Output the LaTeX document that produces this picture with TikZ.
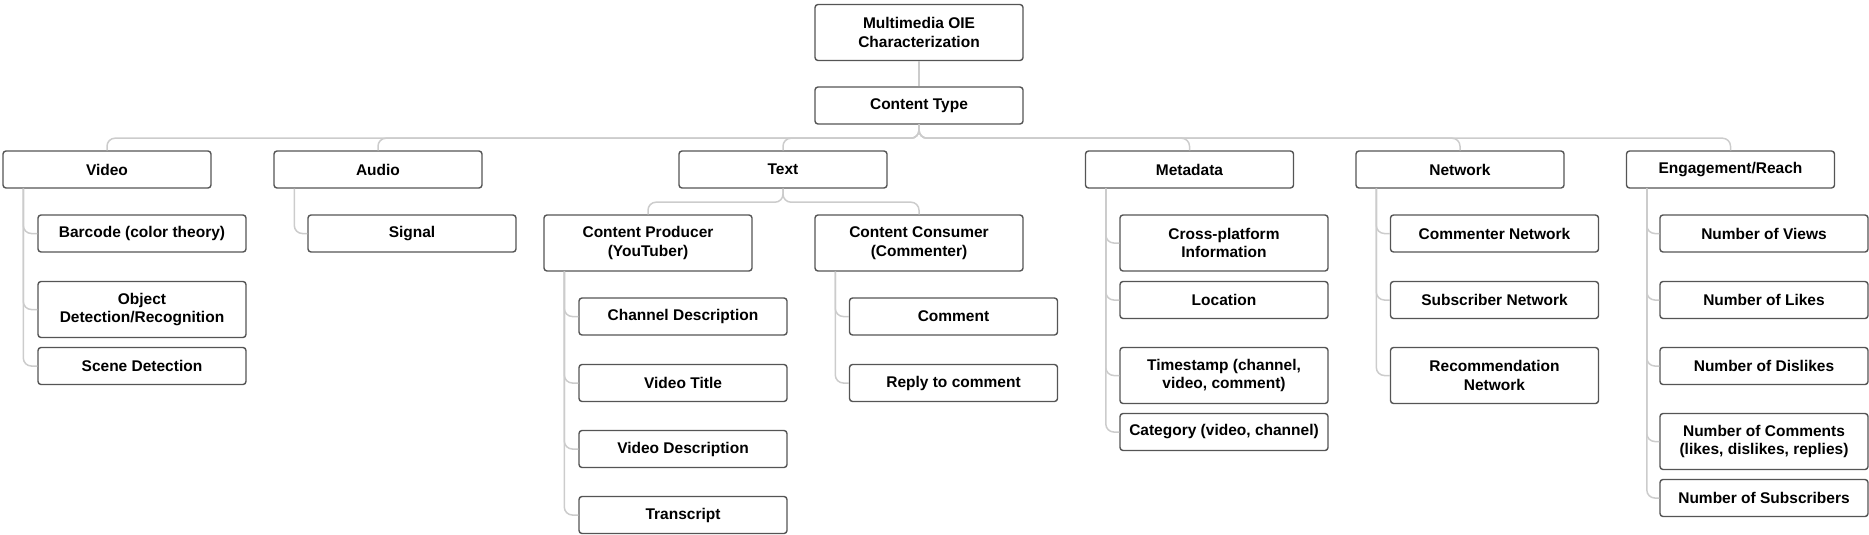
\documentclass[tikz,border=0pt]{standalone}
\usepackage{fontspec}
\setmainfont{Liberation Sans}
\definecolor{boxgray}{HTML}{555555}
\definecolor{conngray}{HTML}{CCCCCC}
\begin{document}
\begin{tikzpicture}[x=1pt,y=-1pt,
  box/.style={draw=boxgray, line width=1.4pt, rounded corners=3pt, fill=white,
    minimum width=208pt, minimum height=37pt, inner sep=0pt, align=center,
    font=\fontsize{15.5}{18.5}\selectfont\bfseries},
  tall/.style={box, minimum height=56pt},
  conn/.style={draw=conngray, line width=1.5pt, rounded corners=8pt}]
\useasboundingbox (0,0) rectangle (1869,535);
% top
\node[tall] (root) at (919,32.5) {Multimedia OIE\\Characterization};
\node[box] (ctype) at (919,105.5) {Content Type};
% level B
\node[box] (video) at (107,169.5) {Video};
\node[box] (audio) at (378,169.5) {Audio};
\node[box] (text) at (783,169.5) {Text};
\node[box] (meta) at (1189.5,169.5) {Metadata};
\node[box] (network) at (1460,169.5) {Network};
\node[box] (engage) at (1730.5,169.5) {Engagement/Reach};
% video children
\node[box] (barcode) at (142,233.5) {Barcode (color theory)};
\node[tall] (object) at (142,309.5) {Object\\Detection/Recognition};
\node[box] (scene) at (142,366) {Scene Detection};
% audio
\node[box] (signal) at (412,233.5) {Signal};
% text
\node[tall] (producer) at (648,243) {Content Producer\\(YouTuber)};
\node[tall] (consumer) at (919,243) {Content Consumer\\(Commenter)};
\node[box] (chan) at (683,316.5) {Channel Description};
\node[box] (vtitle) at (683,383) {Video Title};
\node[box] (vdesc) at (683,449) {Video Description};
\node[box] (transcript) at (683,515) {Transcript};
\node[box] (comment) at (953.5,316.5) {Comment};
\node[box] (reply) at (953.5,383) {Reply to comment};
% metadata
\node[tall] (cross) at (1224,243) {Cross-platform\\Information};
\node[box] (loc) at (1224,300) {Location};
\node[tall] (time) at (1224,375.5) {Timestamp (channel,\\video, comment)};
\node[box] (cat) at (1224,432) {Category (video, channel)};
% network
\node[box] (commnet) at (1494.5,233.5) {Commenter Network};
\node[box] (subnet) at (1494.5,300) {Subscriber Network};
\node[tall] (recnet) at (1494.5,375.5) {Recommendation\\Network};
% engagement
\node[box] (views) at (1764,233.5) {Number of Views};
\node[box] (likes) at (1764,300) {Number of Likes};
\node[box] (dislikes) at (1764,366) {Number of Dislikes};
\node[tall] (ncomments) at (1764,441.5) {Number of Comments\\(likes, dislikes, replies)};
\node[box] (subs) at (1764,498) {Number of Subscribers};
% connectors
\begin{scope}[on background layer/.style={}]
\draw[conn] (root) -- (ctype);
\foreach \c in {video,audio,text,meta,network,engage}
  \draw[conn] (ctype.south) -- ++(0,13.5) -| (\c.north);
\foreach \c in {producer,consumer}
  \draw[conn] (text.south) -- ++(0,13.5) -| (\c.north);
\foreach \p/\c in {video/barcode,video/object,video/scene,audio/signal,
    producer/chan,producer/vtitle,producer/vdesc,producer/transcript,
    consumer/comment,consumer/reply,
    meta/cross,meta/loc,meta/time,meta/cat,
    network/commnet,network/subnet,network/recnet,
    engage/views,engage/likes,engage/dislikes,engage/ncomments,engage/subs}
  \draw[conn] ([xshift=21pt]\p.south west) |- (\c.west);
\end{scope}
\end{tikzpicture}
\end{document}
